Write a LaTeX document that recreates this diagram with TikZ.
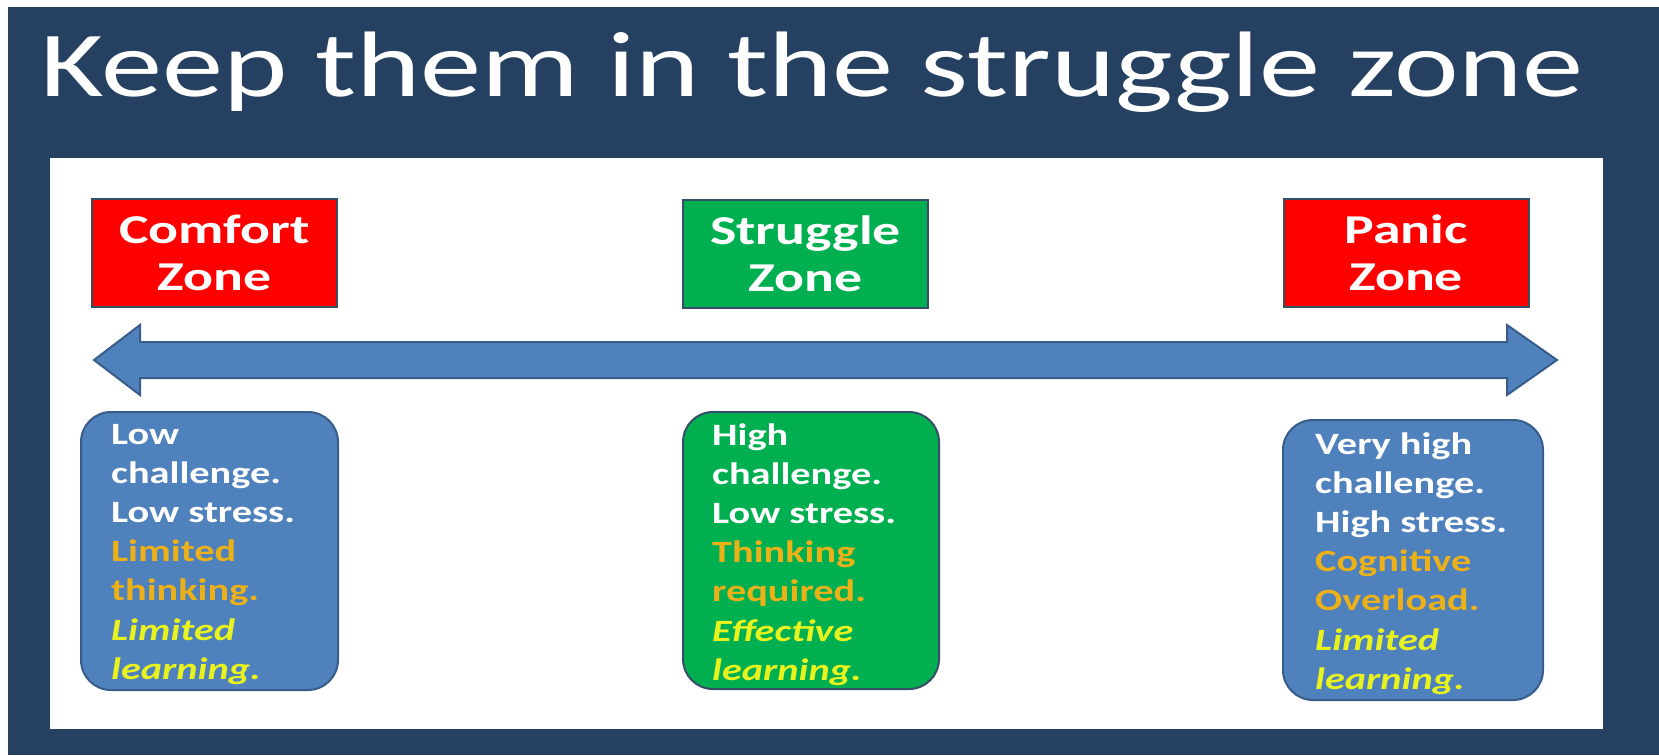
\documentclass[tikz,border=0pt]{standalone}
\usepackage{fontspec}
\setmainfont{Carlito}[FakeStretch=1.3]
\newfontfamily\headfont{Carlito}[FakeStretch=1.316]
\newfontfamily\labelfont{Carlito}[FakeStretch=1.36]

\definecolor{slate}{RGB}{37,64,97}
\definecolor{alarm}{RGB}{255,0,0}
\definecolor{grow}{RGB}{0,176,80}
\definecolor{edge}{RGB}{55,78,104}
\definecolor{steel}{RGB}{79,129,189}
\definecolor{steeledge}{RGB}{56,93,138}
\definecolor{gold}{RGB}{236,176,24}
\definecolor{lemon}{RGB}{232,242,30}

% left-aligned lines of a card, first baseline at the node's base
\newcommand\cardlines[1]{\parbox[t]{240pt}{\fontsize{31}{39.2}\selectfont\bfseries\raggedright\leavevmode #1}}

\begin{document}
\begin{tikzpicture}[x=1pt,y=-1pt,
  zonelabel/.style={draw=edge, line width=2pt, minimum width=245pt, minimum height=108pt,
    inner sep=0pt, align=center, text=white, font=\labelfont\bfseries\fontsize{41}{47}\selectfont},
  notecard/.style={line width=2pt, rounded corners=30pt, inner sep=0pt},
  cardtext/.style={anchor=base west, inner sep=0pt}]

\useasboundingbox (0,0) rectangle (1659,755);
\fill[white] (0,0) rectangle (1659,755);
\fill[slate] (8,7) rectangle (1659,755);
\fill[white] (50,158) rectangle (1603,729);

% heading
\node[anchor=base west, inner sep=0pt, text=white,
      font=\headfont\fontsize{93}{100}\selectfont] (title) at (40,96)
      {Keep them in the struggle zone};

% zone labels
\node[zonelabel, fill=alarm] (comfort)  at (214.5,253) {Comfort\\Zone};
\node[zonelabel, fill=grow]  (struggle) at (805.5,254) {Struggle\\Zone};
\node[zonelabel, fill=alarm] (panic)    at (1406,253)  {Panic\\Zone};

% two-headed scale arrow
\filldraw[fill=steel, draw=steeledge, line width=2pt, line join=miter]
  (94,360) -- (140,325) -- (140,342) -- (1507,342) -- (1507,325) -- (1557,360)
  -- (1507,395) -- (1507,378) -- (140,378) -- (140,395) -- cycle;

% description cards
\node[notecard, fill=steel, draw=steeledge, minimum width=257pt, minimum height=278pt] (lowcard)  at (209.5,551) {};
\node[notecard, fill=grow,  draw=edge,      minimum width=256pt, minimum height=277pt] (midcard)  at (811,550.5) {};
\node[notecard, fill=steel, draw=steeledge, minimum width=260pt, minimum height=280pt] (highcard) at (1413,560)  {};

\node[cardtext] (lowtext) at (111,444) {\cardlines{\color{white}Low\\challenge.\\Low stress.\\
  \color{gold}Limited\\thinking.\\\color{lemon}\itshape Limited\\learning.}};
\node[cardtext] (midtext) at (712,445) {\cardlines{\color{white}High\\challenge.\\Low stress.\\
  \color{gold}Thinking\\required.\\\color{lemon}\itshape Effective\\learning.}};
\node[cardtext] (hightext) at (1315,454) {\cardlines{\color{white}Very high\\challenge.\\High stress.\\
  \color{gold}Cognitive\\Overload.\\\color{lemon}\itshape Limited\\learning.}};
\end{tikzpicture}
\end{document}
